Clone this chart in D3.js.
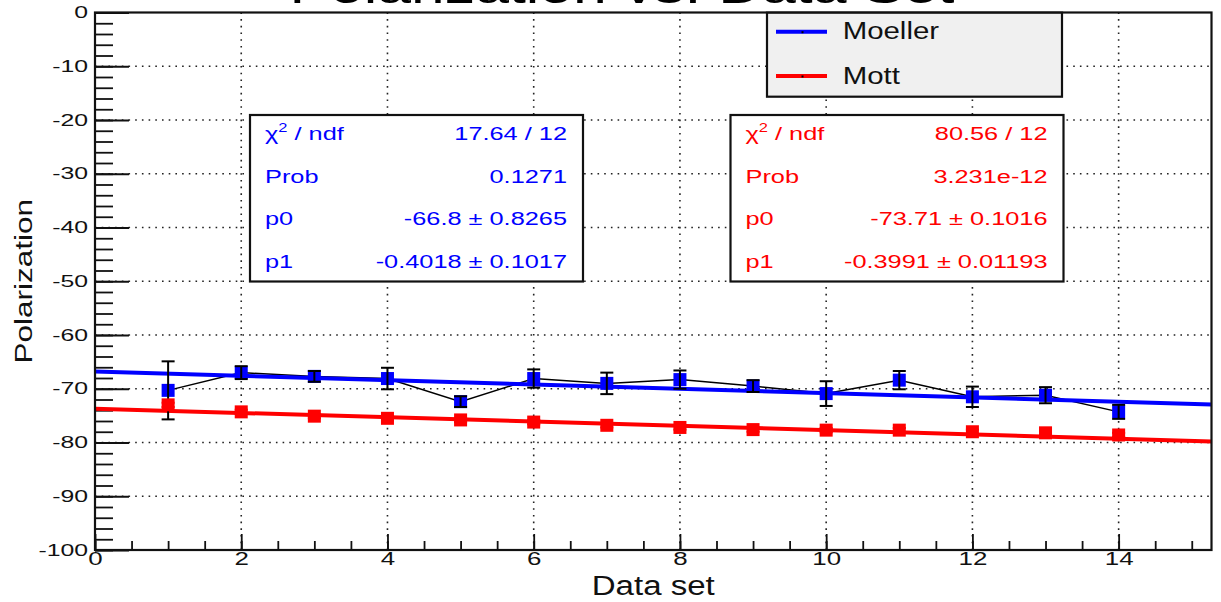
<!DOCTYPE html>
<html>
<head>
<meta charset="utf-8">
<script src="https://cdn.jsdelivr.net/npm/d3@7"></script>
<style>
  body { margin: 0; background: #fff; }
  svg { display: block; }
  text { font-family: "Liberation Sans", Arial, Helvetica, sans-serif; }
</style>
</head>
<body>
<svg id="chart" width="1221" height="602"></svg>
<script>
// ---- data ----
const dataSets   = [1, 2, 3, 4, 5, 6, 7, 8, 9, 10, 11, 12, 13, 14];
const moeller    = [-70.3, -67.0, -67.7, -68.1, -72.4, -68.1, -69.0, -68.3, -69.5, -70.9, -68.4, -71.5, -71.2, -74.3];
const moellerErr = [5.4, 1.2, 1.0, 2.0, 1.0, 1.7, 2.0, 1.7, 1.1, 2.3, 1.7, 1.9, 1.5, 1.3];
const mott       = [-73.0, -74.3, -75.1, -75.5, -75.8, -76.2, -76.8, -77.2, -77.6, -77.7, -77.7, -78.0, -78.2, -78.6];
const mottErr    = [0.4, 0.4, 0.4, 0.4, 0.4, 0.4, 0.4, 0.4, 0.4, 0.4, 0.4, 0.4, 0.4, 0.4];
const moellerFit = [-66.8, -0.4018];   // p0, p1
const mottFit    = [-73.71, -0.3991];  // p0, p1
const moellerStats = [["χ2 / ndf", "17.64 / 12"], ["Prob", "0.1271"], ["p0", "-66.8 ± 0.8265"], ["p1", "-0.4018 ± 0.1017"]];
const mottStats    = [["χ2 / ndf", "80.56 / 12"], ["Prob", "3.231e-12"], ["p0", "-73.71 ± 0.1016"], ["p1", "-0.3991 ± 0.01193"]];
const seriesNames  = ["Moeller", "Mott"];
const xTicks      = [0, 2, 4, 6, 8, 10, 12, 14];
const xMinorTicks = d3.range(0, 15.26, 0.5);
const yTicks      = [0, -10, -20, -30, -40, -50, -60, -70, -80, -90, -100];
const yMinorTicks = d3.range(0, -100.1, -2);
const xDomain = [0, 15.27];
const yDomain = [-100, 0];

const titleText  = "Polarization vs. Data Set";
const xTitleText = "Data set";
const yTitleText = "Polarization";

// ---- layout ----
const svg = d3.select("#chart");
const L = 95, R = 1211.5, T = 12.5, B = 550;
const x = d3.scaleLinear().domain(xDomain).range([L, R]);
const y = d3.scaleLinear().domain(yDomain).range([B, T]);
const BLUE = "#0000ff", RED = "#ff0000";

// widen glyphs horizontally about the text anchor
function widen(sel, k) {
  sel.each(function () {
    const n = d3.select(this);
    const tx = +n.attr("x") || 0, ty = +n.attr("y") || 0;
    n.attr("x", 0).attr("y", 0).attr("transform", `translate(${tx},${ty}) scale(${k},1)`);
  });
}

// title (runs off the top edge of the canvas)
svg.append("text")
  .attr("x", 622).attr("y", 3)
  .attr("text-anchor", "middle")
  .attr("font-size", 45)
  .text(titleText)
  .call(widen, 1.35);

// grid
const grid = svg.append("g")
  .attr("stroke", "#222").attr("stroke-width", 1.6)
  .attr("stroke-dasharray", "1.6,5.1").attr("fill", "none");
grid.selectAll(".gx").data(xTicks.filter(d => d > 0)).join("line")
  .attr("class", "gx")
  .attr("x1", d => x(d)).attr("x2", d => x(d)).attr("y1", B).attr("y2", T);
grid.selectAll(".gy").data(yTicks.filter(d => d < 0 && d > -100)).join("line")
  .attr("class", "gy")
  .attr("y1", d => y(d)).attr("y2", d => y(d)).attr("x1", L).attr("x2", R);

// axes (ticks point into the frame)
const xMinor = svg.append("g").attr("transform", `translate(0,${B})`)
  .call(d3.axisBottom(x).tickValues(xMinorTicks).tickSize(-9).tickFormat(""));
const xMajor = svg.append("g").attr("transform", `translate(0,${B})`)
  .call(d3.axisBottom(x).tickValues(xTicks).tickSize(-16).tickPadding(3).tickFormat(d3.format("d")));
const yMinor = svg.append("g").attr("transform", `translate(${L},0)`)
  .call(d3.axisLeft(y).tickValues(yMinorTicks).tickSize(-18).tickFormat(""));
const yMajor = svg.append("g").attr("transform", `translate(${L},0)`)
  .call(d3.axisLeft(y).tickValues(yTicks).tickSize(-34).tickPadding(7).tickFormat(d => d3.format("d")(d).replace("−", "-")));

[xMinor, xMajor, yMinor, yMajor].forEach(g => {
  g.select(".domain").remove();
  g.selectAll(".tick line").attr("stroke", "#111").attr("stroke-width", 1.8);
});
xMajor.selectAll(".tick text").attr("font-size", 17.5).attr("fill", "#111").call(widen, 1.48);
yMajor.selectAll(".tick text").attr("font-size", 16).attr("fill", "#111").call(widen, 1.55);

// axis titles
svg.append("text")
  .attr("x", (L + R) / 2).attr("y", 595)
  .attr("text-anchor", "middle").attr("font-size", 28).attr("fill", "#111")
  .text(xTitleText).call(widen, 1.18);
svg.append("text")
  .attr("transform", `translate(32,${(T + B) / 2}) rotate(-90) scale(1.37,1)`)
  .attr("text-anchor", "middle").attr("font-size", 23).attr("fill", "#111")
  .text(yTitleText);

// graph line joining the Moeller points
svg.append("path")
  .datum(dataSets.map((d, i) => [d, moeller[i]]))
  .attr("fill", "none").attr("stroke", "#000").attr("stroke-width", 1.5)
  .attr("d", d3.line().x(d => x(d[0])).y(d => y(d[1])));

// linear fits p0 + p1*x
function fitLine(p, color) {
  svg.append("path")
    .datum(xDomain.map(v => [v, p[0] + p[1] * v]))
    .attr("fill", "none").attr("stroke", color).attr("stroke-width", 4)
    .attr("d", d3.line().x(d => x(d[0])).y(d => y(d[1])));
}
fitLine(moellerFit, BLUE);
fitLine(mottFit, RED);

// markers + error bars
function points(vals, errs, color, barColor) {
  const g = svg.append("g");
  const M = 13, C = 13;
  g.selectAll("rect").data(dataSets).join("rect")
    .attr("x", (d) => x(d) - M / 2).attr("y", (d, i) => y(vals[i]) - M / 2)
    .attr("width", M).attr("height", M).attr("fill", color);
  const e = g.append("g").attr("stroke", barColor).attr("stroke-width", 2);
  e.selectAll(".v").data(dataSets).join("line").attr("class", "v")
    .attr("x1", d => x(d)).attr("x2", d => x(d))
    .attr("y1", (d, i) => y(vals[i] + errs[i])).attr("y2", (d, i) => y(vals[i] - errs[i]));
  e.selectAll(".t").data(dataSets).join("line").attr("class", "t")
    .attr("x1", d => x(d) - C / 2).attr("x2", d => x(d) + C / 2)
    .attr("y1", (d, i) => y(vals[i] + errs[i])).attr("y2", (d, i) => y(vals[i] + errs[i]));
  e.selectAll(".b").data(dataSets).join("line").attr("class", "b")
    .attr("x1", d => x(d) - C / 2).attr("x2", d => x(d) + C / 2)
    .attr("y1", (d, i) => y(vals[i] - errs[i])).attr("y2", (d, i) => y(vals[i] - errs[i]));
}
points(moeller, moellerErr, BLUE, "#000");
points(mott, mottErr, RED, RED);

// frame
svg.append("rect")
  .attr("x", L).attr("y", T).attr("width", R - L).attr("height", B - T)
  .attr("fill", "none").attr("stroke", "#111").attr("stroke-width", 2.2);

// fit statistics boxes
function statBox(x0, rows, color) {
  const w = 333, top = 115, h = 166.5;
  const g = svg.append("g");
  g.append("rect").attr("x", x0).attr("y", top).attr("width", w).attr("height", h)
    .attr("fill", "#fff").attr("stroke", "#111").attr("stroke-width", 2.2);
  const base = [140, 182.7, 225.3, 268];
  rows.forEach((r, i) => {
    const lab = g.append("text").attr("x", x0 + 15).attr("y", base[i])
      .attr("font-size", 18.5).attr("fill", color);
    if (r[0].startsWith("χ2")) {
      lab.append("tspan").text("χ");
      lab.append("tspan").attr("font-size", 12).attr("dy", -8).text("2");
      lab.append("tspan").attr("dy", 8).text(r[0].slice(2));
    } else {
      lab.text(r[0]);
    }
    lab.call(widen, 1.37);
    g.append("text").attr("x", x0 + w - 16).attr("y", base[i])
      .attr("text-anchor", "end").attr("font-size", 18.5).attr("fill", color)
      .text(r[1]).call(widen, 1.37);
  });
}
statBox(250, moellerStats, BLUE);
statBox(730.5, mottStats, RED);

// legend
const lg = svg.append("g");
lg.append("rect").attr("x", 767).attr("y", 12.7).attr("width", 295).attr("height", 84)
  .attr("fill", "#f0f0f0").attr("stroke", "#111").attr("stroke-width", 2.2);
const legendY = [31.7, 76];
const legendColors = [BLUE, RED];
seriesNames.forEach((name, i) => {
  lg.append("line").attr("x1", 776).attr("x2", 827).attr("y1", legendY[i]).attr("y2", legendY[i])
    .attr("stroke", legendColors[i]).attr("stroke-width", 4);
  lg.append("rect").attr("x", 801.5).attr("y", legendY[i] - 0.5).attr("width", 2).attr("height", 2).attr("fill", "#000");
  lg.append("text").attr("x", 842.7).attr("y", legendY[i] + 7.6)
    .attr("font-size", 24.5).attr("fill", "#111").text(name).call(widen, 1.2);
});
</script>
</body>
</html>
